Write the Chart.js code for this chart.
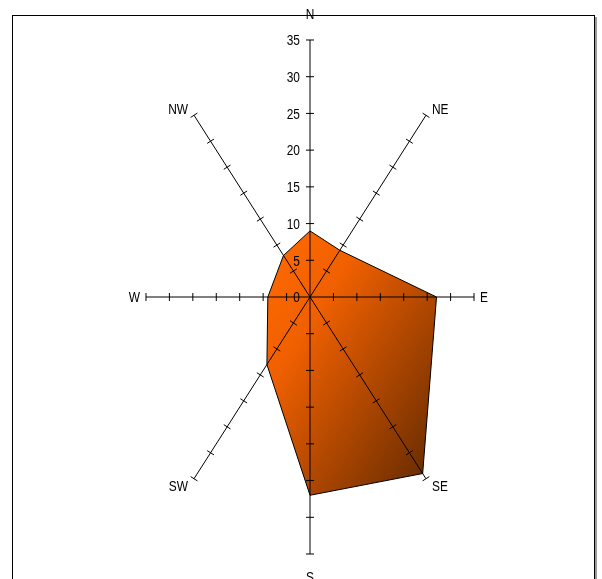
<!DOCTYPE html>
<html>
<head>
<meta charset="utf-8">
<script src="https://cdn.jsdelivr.net/npm/chart.js@4/dist/chart.umd.min.js"></script>
<style>
    html, body { margin: 0; padding: 0; background: #fff; }
    #wrap { width: 602px; height: 579px; position: relative; }
</style>
</head>
<body>
<div id="wrap"><canvas id="rose"></canvas></div>
<script>
// wind directions, clockwise from north
const directions = ["N", "NE", "E", "SE", "S", "SW", "W", "NW"];
const frequency = [9, 9, 27, 34, 27, 13, 9, 8];
const tickValues = [0, 5, 10, 15, 20, 25, 30, 35];
const axisMax = 35;

const FONT = "15.5px 'Liberation Sans', Arial, sans-serif";

function toXY(value, index) {
    const a = index * Math.PI / 4;
    return { x: value * Math.sin(a), y: value * Math.cos(a) };
}

const points = frequency.map(toXY);
points.push(points[0]);

function fillGradient(context) {
    const chart = context.chart;
    const sx = chart.scales.x, sy = chart.scales.y;
    if (!chart.chartArea || !sx || !sy) {
        return "#e85d00";
    }
    const x0 = sx.getPixelForValue(-9.4), y0 = sy.getPixelForValue(6.4);
    const x1 = sx.getPixelForValue(36), y1 = sy.getPixelForValue(-12.3);
    if (![x0, y0, x1, y1].every(isFinite)) {
        return "#e85d00";
    }
    const g = chart.ctx.createLinearGradient(x0, y0, x1, y1);
    g.addColorStop(0, "#ff6a00");
    g.addColorStop(0.3, "#f06000");
    g.addColorStop(1, "#6e2e00");
    return g;
}

// narrow text, like the condensed face of the original
function narrowText(ctx, text, x, y, align) {
    ctx.save();
    ctx.translate(x, y);
    ctx.scale(0.77, 1);
    ctx.textAlign = align;
    ctx.fillText(text, 0, 0);
    ctx.restore();
}

const framePlugin = {
    id: "frame",
    beforeDraw: function (chart) {
        const ctx = chart.ctx;
        ctx.save();
        ctx.strokeStyle = "#9a9a9a";
        ctx.lineWidth = 2;
        ctx.beginPath();
        ctx.moveTo(596, 17);
        ctx.lineTo(596, 579);
        ctx.stroke();
        ctx.strokeStyle = "#000";
        ctx.lineWidth = 1;
        ctx.strokeRect(12.5, 15.5, 582, 620);
        ctx.restore();
    }
};

const axesPlugin = {
    id: "roseAxes",
    afterDatasetsDraw: function (chart) {
        const ctx = chart.ctx;
        const sx = chart.scales.x, sy = chart.scales.y;
        const cx = sx.getPixelForValue(0), cy = sy.getPixelForValue(0);
        ctx.save();
        ctx.strokeStyle = "#000";
        ctx.lineWidth = 1;
        directions.forEach(function (name, i) {
            const end = toXY(axisMax, i);
            const ex = sx.getPixelForValue(end.x), ey = sy.getPixelForValue(end.y);
            ctx.beginPath();
            ctx.moveTo(cx, cy);
            ctx.lineTo(ex, ey);
            ctx.stroke();
            // perpendicular tick marks
            const len = Math.hypot(ex - cx, ey - cy);
            const nx = -(ey - cy) / len, ny = (ex - cx) / len;
            tickValues.slice(1).forEach(function (v) {
                const p = toXY(v, i);
                const px = sx.getPixelForValue(p.x), py = sy.getPixelForValue(p.y);
                ctx.beginPath();
                ctx.moveTo(px - nx * 4, py - ny * 4);
                ctx.lineTo(px + nx * 4, py + ny * 4);
                ctx.stroke();
            });
        });

        ctx.fillStyle = "#000";
        ctx.font = FONT;
        ctx.textBaseline = "middle";
        // value labels on the north axis
        tickValues.forEach(function (v) {
            narrowText(ctx, String(v), cx - 10, sy.getPixelForValue(v) + 1, "right");
        });

        // direction labels
        const gap = 6;
        directions.forEach(function (name, i) {
            const end = toXY(axisMax, i);
            let ex = sx.getPixelForValue(end.x), ey = sy.getPixelForValue(end.y);
            const dx = Math.sign(Math.round(end.x)), dy = Math.sign(Math.round(end.y));
            let align = "center";
            if (dx === 0) {
                ey = dy > 0 ? 15 : 578;
            } else {
                align = dx > 0 ? "left" : "right";
                ex += dx * gap;
                ey -= dy * 7;
                ey += 1;
            }
            narrowText(ctx, name, ex, ey, align);
        });
        ctx.restore();
    }
};

new Chart(document.getElementById("rose"), {
    type: "scatter",
    data: {
        datasets: [
            {
                label: "Frequency",
                data: points,
                showLine: true,
                fill: "shape",
                backgroundColor: fillGradient,
                borderColor: "#000",
                borderWidth: 1,
                pointRadius: 0,
                tension: 0
            }
        ]
    },
    options: {
        responsive: true,
        maintainAspectRatio: false,
        animation: false,
        layout: {
            padding: { left: 136.6, right: 118.6, top: 25.3, bottom: 10.3 }
        },
        plugins: {
            legend: { display: false },
            tooltip: { enabled: false }
        },
        scales: {
            x: { type: "linear", min: -37, max: 37, display: false },
            y: { type: "linear", min: -37, max: 37, display: false }
        }
    },
    plugins: [framePlugin, axesPlugin]
});
</script>
</body>
</html>
